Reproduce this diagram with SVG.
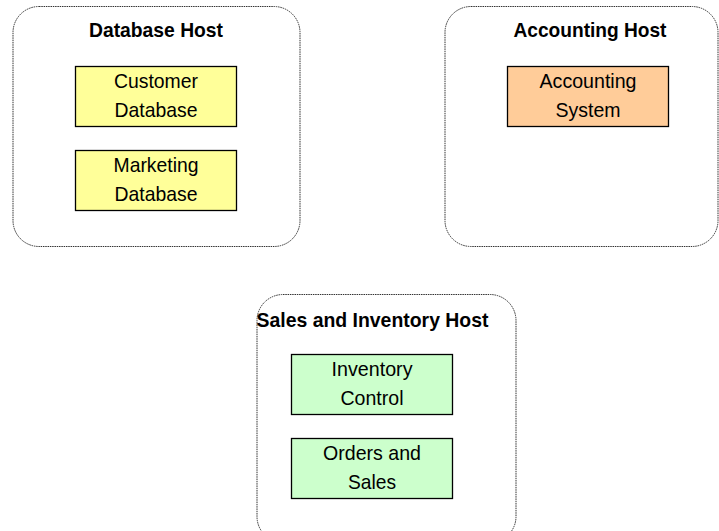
<svg xmlns="http://www.w3.org/2000/svg" width="719" height="531" viewBox="0 0 719 531">
<style>
.host{fill:#fff;stroke:#333;stroke-width:1;stroke-dasharray:1.5 0.8}
.comp{stroke:#000;stroke-width:1.3}
.title{font-family:"Liberation Sans Narrow","Arial Narrow","Liberation Sans",sans-serif;font-weight:bold;font-size:21px;text-anchor:middle;fill:#000}
.lbl{font-family:"Liberation Sans Narrow","Arial Narrow","Liberation Sans",sans-serif;font-size:21px;text-anchor:middle;fill:#000}
</style>
<rect width="719" height="531" fill="#fff"/>
<g id="connectors"></g>
<g id="database-host">
<rect class="host" x="13" y="6.5" width="287" height="240" rx="26"/>
<text class="title" x="156" y="37" textLength="134" lengthAdjust="spacingAndGlyphs">Database Host</text>
</g>
<g id="customer-database">
<rect class="comp" x="75.5" y="66.5" width="161" height="60" fill="#FFFF99"/>
<text class="lbl" x="156" y="88" textLength="84" lengthAdjust="spacingAndGlyphs">Customer</text>
<text class="lbl" x="156" y="117" textLength="83" lengthAdjust="spacingAndGlyphs">Database</text>
</g>
<g id="marketing-database">
<rect class="comp" x="75.5" y="150.5" width="161" height="60" fill="#FFFF99"/>
<text class="lbl" x="156" y="172" textLength="85" lengthAdjust="spacingAndGlyphs">Marketing</text>
<text class="lbl" x="156" y="201" textLength="83" lengthAdjust="spacingAndGlyphs">Database</text>
</g>
<g id="accounting-host">
<rect class="host" x="445" y="6.5" width="273" height="240" rx="26"/>
<text class="title" x="590" y="37" textLength="153" lengthAdjust="spacingAndGlyphs">Accounting Host</text>
</g>
<g id="accounting-system">
<rect class="comp" x="507.5" y="66.5" width="161" height="60" fill="#FFCC99"/>
<text class="lbl" x="588" y="88" textLength="97" lengthAdjust="spacingAndGlyphs">Accounting</text>
<text class="lbl" x="588" y="117" textLength="65" lengthAdjust="spacingAndGlyphs">System</text>
</g>
<g id="sales-inventory-host">
<rect class="host" x="257" y="294.5" width="259" height="248" rx="26"/>
<text class="title" x="372.5" y="327" textLength="232" lengthAdjust="spacingAndGlyphs">Sales and Inventory Host</text>
</g>
<g id="inventory-control">
<rect class="comp" x="291.5" y="354.5" width="161" height="60" fill="#CCFFCC"/>
<text class="lbl" x="372" y="376" textLength="81" lengthAdjust="spacingAndGlyphs">Inventory</text>
<text class="lbl" x="372" y="405" textLength="63" lengthAdjust="spacingAndGlyphs">Control</text>
</g>
<g id="orders-sales">
<rect class="comp" x="291.5" y="438.5" width="161" height="60" fill="#CCFFCC"/>
<text class="lbl" x="372" y="460" textLength="98" lengthAdjust="spacingAndGlyphs">Orders and</text>
<text class="lbl" x="372" y="489" textLength="48" lengthAdjust="spacingAndGlyphs">Sales</text>
</g>
</svg>
